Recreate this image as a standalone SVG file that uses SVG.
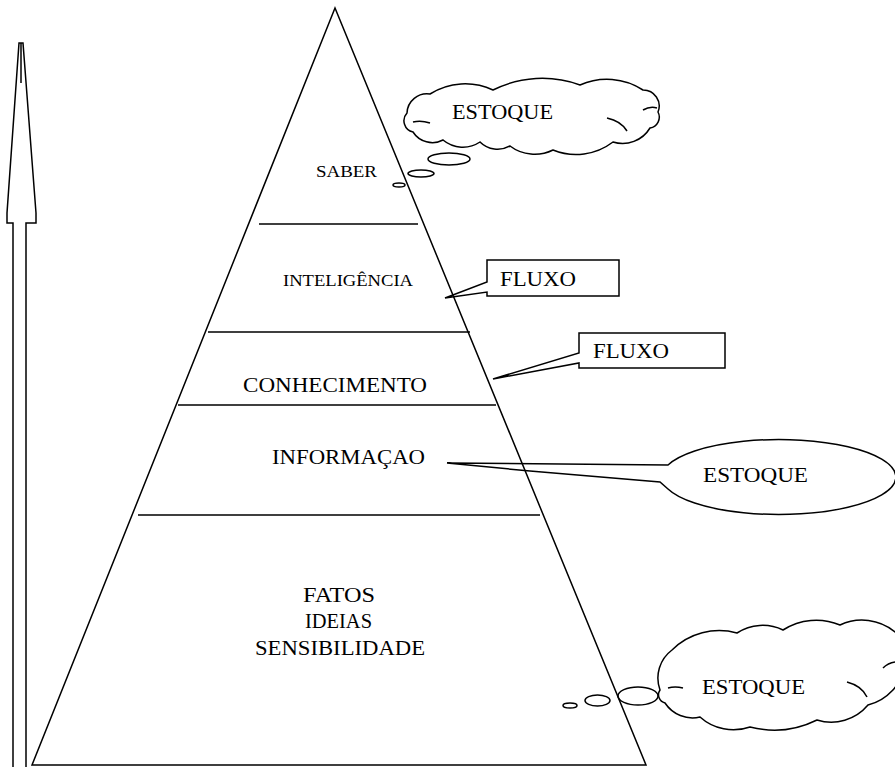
<svg xmlns="http://www.w3.org/2000/svg" width="895" height="767" viewBox="0 0 895 767">
<style>
.ln{fill:none;stroke:#000;stroke-width:1.5;stroke-linejoin:miter}
.t{font-family:"Liberation Serif","Times New Roman",serif;fill:#000}
.big{font-size:20px}
.sm{font-size:16.5px}
</style>
<rect width="895" height="767" fill="#fff"/>
<g id="arrow">
<path class="ln" d="M13,767 V223 H7 V213 L19,43 H23 L36,213 V223 H26 V767"/>
<path class="ln" d="M21,43 V83"/>
</g>
<g id="pyramid">
<path class="ln" d="M335,8 L32,765 H646 Z"/>
<path class="ln" d="M259,224 H418 M208,332 H470 M178,405 H496 M138,515 H540"/>
</g>
<g id="level-saber"><text class="t sm" x="316" y="177" textLength="61" lengthAdjust="spacingAndGlyphs">SABER</text></g>
<g id="level-inteligencia"><text class="t sm" x="283" y="286" textLength="130" lengthAdjust="spacingAndGlyphs">INTELIGÊNCIA</text></g>
<g id="level-conhecimento"><text class="t big" x="243" y="392" textLength="184" lengthAdjust="spacingAndGlyphs">CONHECIMENTO</text></g>
<g id="level-informacao"><text class="t big" x="272" y="464" textLength="153" lengthAdjust="spacingAndGlyphs">INFORMAÇAO</text></g>
<g id="level-base">
<text class="t big" x="303" y="602" textLength="72" lengthAdjust="spacingAndGlyphs">FATOS</text>
<text class="t big" x="305" y="628" textLength="67" lengthAdjust="spacingAndGlyphs">IDEIAS</text>
<text class="t big" x="255" y="655" textLength="170" lengthAdjust="spacingAndGlyphs">SENSIBILIDADE</text>
</g>
<g id="connectors">
<ellipse class="ln" cx="449" cy="159" rx="21" ry="6"/>
<ellipse class="ln" cx="421" cy="173.5" rx="13" ry="3.5"/>
<ellipse class="ln" cx="399" cy="185" rx="6" ry="2"/>
<ellipse class="ln" cx="638" cy="696" rx="20" ry="9"/>
<ellipse class="ln" cx="597.5" cy="700.5" rx="12.5" ry="5.5"/>
<ellipse class="ln" cx="570" cy="705.5" rx="7" ry="2.5"/>
</g>
<g id="cloud-top">
<path class="ln" d="M407,113 A20,20 0 0 1 430,94 A66,66 0 0 1 493,90 A110,110 0 0 1 580,85 A66,66 0 0 1 643,90 A16,16 0 0 1 658,112 A11,11 0 0 1 650,128 A32,32 0 0 1 613,142 A61,61 0 0 1 553,150 A41,41 0 0 1 510,146 A25,25 0 0 1 480,142 A31,31 0 0 1 443,140 A23,23 0 0 1 413,132 A11.5,11.5 0 0 1 407,113 Z"/>
<path class="ln" d="M413,122 Q421,120 430,123 M607,118 Q621,121 627,131 M643,110 Q650,106 657,108"/>
<text class="t big" x="452" y="119" textLength="101" lengthAdjust="spacingAndGlyphs">ESTOQUE</text>
</g>
<g id="fluxo-1">
<path class="ln" d="M487,260 H619 V296 H487 V292 L445,298 L487,282 Z"/>
<text class="t big" x="500" y="286" textLength="76" lengthAdjust="spacingAndGlyphs">FLUXO</text>
</g>
<g id="fluxo-2">
<path class="ln" d="M579,333 H725 V368 H579 V363 L493,379 L579,353 Z"/>
<text class="t big" x="593" y="358" textLength="76" lengthAdjust="spacingAndGlyphs">FLUXO</text>
</g>
<g id="estoque-mid">
<path class="ln" d="M668,465 A117,37.5 0 1 1 668,489 L660,482 L530,471 L447,463 Z"/>
<text class="t big" x="703" y="482" textLength="105" lengthAdjust="spacingAndGlyphs">ESTOQUE</text>
</g>
<g id="cloud-bottom">
<path class="ln" d="M660,690 A35,35 0 0 1 672,650 A67,67 0 0 1 737,633 A47,47 0 0 1 783,630 A61.5,61.5 0 0 1 840,625 A52,52 0 0 1 895,632 A23,23 0 0 1 905,665 A50,50 0 0 1 868,705 A48,48 0 0 1 817,720 A96.5,96.5 0 0 1 750,727 A50,50 0 0 1 700,717 A33,33 0 0 1 665,703 A8.5,8.5 0 0 1 660,690 Z"/>
<path class="ln" d="M668,688 Q675,686 683,688 M847,682 Q862,686 867,697 M883,668 Q888,663 895,662"/>
<text class="t big" x="702" y="694" textLength="103" lengthAdjust="spacingAndGlyphs">ESTOQUE</text>
</g>
</svg>
